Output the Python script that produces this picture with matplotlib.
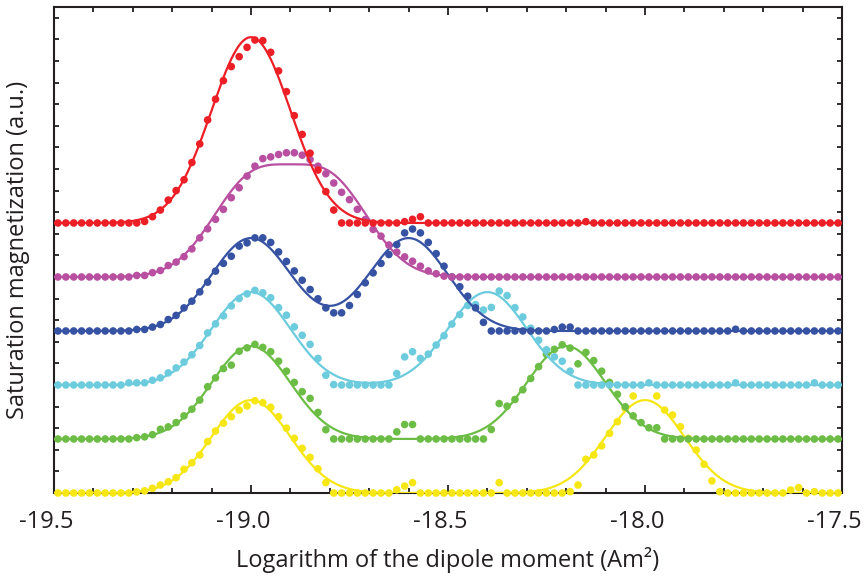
import numpy as np
import matplotlib
matplotlib.use("Agg")
import matplotlib.pyplot as plt
import matplotlib.transforms as mtransforms
from matplotlib.ticker import MultipleLocator, FormatStrFormatter

plt.rcParams["font.family"] = ["Open Sans", "DejaVu Sans"]
plt.rcParams["axes.unicode_minus"] = False

# Measurement grid: log10 of the dipole moment (A m^2)
x = np.round(-19.49 + 0.02 * np.arange(100), 2)

# Measured saturation magnetization (a.u.), one row of 10 points per line
red = [
    0, 0, 0, 0, 0, 0, 0, 0, 0, 0,
    0, 0.07, 0.29, 0.6, 1.06, 1.5, 2.0, 2.8, 3.66, 4.77,
    5.73, 6.59, 7.24, 7.7, 8.13, 8.47, 8.44, 7.9, 7.04, 6.08,
    4.97, 4.1, 3.23, 2.45, 1.45, 0.6, 0, 0, 0, 0,
    0, 0, 0, 0, 0.06, 0.17, 0.29, 0, 0, 0,
    0, 0, 0, 0, 0, 0, 0, 0, 0, 0,
    0, 0, 0, 0, 0, 0, 0, 0.06, 0, 0,
    0, 0, 0, 0, 0, 0, 0, 0, 0, 0,
    0, 0, 0, 0, 0, 0, 0, 0, 0, 0,
    0, 0, 0, 0, 0, 0, 0, 0, 0, 0,
]
magenta = [
    0, 0, 0, 0, 0, 0, 0, 0, 0, 0,
    0.07, 0.07, 0.2, 0.3, 0.53, 0.69, 0.94, 1.3, 1.81, 2.23,
    2.67, 3.13, 3.67, 4.13, 4.67, 5.13, 5.48, 5.56, 5.67, 5.75,
    5.75, 5.64, 5.44, 5.13, 4.78, 4.35, 3.92, 3.58, 3.13, 2.66,
    2.2, 1.89, 1.48, 1.15, 0.93, 0.73, 0.5, 0.28, 0.15, 0.04,
    0, 0, 0, 0, 0, 0, 0, 0, 0, 0,
    0, 0, 0, 0, 0, 0, 0, 0, 0, 0,
    0, 0, 0, 0, 0, 0, 0, 0, 0, 0,
    0, 0, 0, 0, 0, 0, 0, 0, 0, 0,
    0, 0, 0, 0, 0, 0, 0, 0, 0, 0,
]
blue = [
    0, 0, 0, 0, 0, 0, 0, 0, 0, 0,
    0.07, 0.07, 0.18, 0.3, 0.53, 0.72, 1.07, 1.38, 1.81, 2.26,
    2.77, 3.13, 3.46, 3.93, 4.08, 4.31, 4.31, 4.1, 3.66, 3.22,
    2.78, 2.35, 1.92, 1.49, 1.07, 0.84, 0.84, 1.18, 1.69, 2.23,
    2.69, 3.13, 3.54, 4.0, 4.54, 4.72, 4.54, 4.1, 3.58, 3.0,
    2.5, 2.05, 1.61, 1.07, 0.4, 0, 0, 0, 0, 0,
    0, 0, 0, 0.07, 0.18, 0.18, 0, 0, 0, 0,
    0, 0, 0, 0, 0, 0, 0, 0, 0, 0,
    0, 0, 0, 0, 0, 0, 0.08, 0, 0, 0,
    0, 0, 0, 0, 0, 0, 0, 0, 0, 0,
]
cyan = [
    0, 0, 0, 0, 0, 0, 0, 0, 0, 0.1,
    0.1, 0.1, 0.22, 0.33, 0.56, 0.79, 1.06, 1.4, 1.83, 2.41,
    2.83, 3.2, 3.66, 4.0, 4.22, 4.38, 4.27, 4.04, 3.58, 3.23,
    2.69, 2.3, 1.88, 1.23, 0.45, 0.02, 0, 0, 0, 0,
    0, 0, 0, 0.53, 1.3, 1.54, 1.23, 1.43, 1.85, 2.28,
    2.82, 3.26, 3.68, 3.72, 3.47, 3.59, 4.35, 4.14, 3.58, 3.15,
    2.63, 2.07, 1.63, 1.3, 1.1, 0.64, 0, 0, 0, 0,
    0, 0, 0, 0, 0, 0.1, 0, 0, 0, 0,
    0, 0, 0, 0, 0, 0, 0.1, 0, 0, 0,
    0, 0, 0, 0, 0, 0, 0.1, 0, 0, 0,
]
green = [
    0, 0, 0, 0, 0, 0, 0, 0, 0, 0,
    0.06, 0.1, 0.2, 0.45, 0.56, 0.76, 1.07, 1.38, 1.8, 2.42,
    2.83, 3.26, 3.42, 4.06, 4.22, 4.38, 4.24, 4.04, 3.6, 3.14,
    2.62, 2.19, 1.88, 1.23, 0.43, 0, 0, 0, 0, 0,
    0, 0, 0, 0.33, 0.67, 0.67, 0, 0, 0, 0,
    0, 0, 0, 0, 0, 0.44, 1.64, 1.52, 1.83, 2.28,
    2.8, 3.35, 3.92, 4.15, 4.36, 4.21, 3.48, 4.01, 3.63, 3.14,
    2.62, 2.07, 1.49, 1.07, 0.76, 0.52, 0.52, 0, 0, 0,
    0, 0, 0, 0, 0, 0, 0, 0, 0, 0,
    0, 0, 0, 0, 0, 0, 0, 0, 0, 0,
]
yellow = [
    0, 0, 0, 0, 0, 0, 0, 0, 0, 0,
    0.05, 0.1, 0.22, 0.37, 0.52, 0.71, 1.1, 1.4, 1.76, 2.38,
    2.87, 3.23, 3.53, 3.84, 4.03, 4.27, 4.18, 3.97, 3.53, 3.0,
    2.53, 2.07, 1.65, 1.12, 0.48, 0, 0, 0, 0, 0,
    0, 0, 0, 0.15, 0.32, 0.48, 0, 0, 0, 0,
    0, 0, 0, 0, 0, 0, 0.48, 0, 0, 0,
    0, 0, 0, 0, 0, 0.06, 0.37, 1.56, 1.76, 2.18,
    2.76, 3.3, 3.92, 4.49, np.nan, np.nan, 4.49, 3.84, 3.61, 3.07,
    2.53, 1.99, 1.33, 0.56, 0.06, 0, 0, 0, 0, 0,
    0, 0, 0, 0.14, 0.25, 0, 0.06, 0, 0, 0,
]

series = [yellow, green, cyan, blue, magenta, red]
colors = ["#f5e614", "#6cbd45", "#6ccbdd", "#3652a3", "#b94fa0", "#ed1f26"]
offsets = [0.0, 2.5, 5.0, 7.5, 10.0, 12.5]

# Two-population log-normal fit: fixed first population plus a shifted second one
first_center = -19.0
second_centers = [-18.0, -18.2, -18.4, -18.6, -18.8, -19.0]
peak_height = 4.3
peak_width = 0.1

fig = plt.figure(figsize=(8.64, 5.8), dpi=100)
ax = fig.add_axes([0.0625, 0.15, 0.912, 0.838])

xf = np.linspace(-19.5, -17.5, 1001)
for i, (ys, col, off, c2) in enumerate(zip(series, colors, offsets, second_centers)):
    fit = (peak_height * np.exp(-(xf - first_center) ** 2 / (2 * peak_width ** 2))
           + peak_height * np.exp(-(xf - c2) ** 2 / (2 * peak_width ** 2)))
    ax.plot(xf, fit + off, color=col, lw=1.6, zorder=3 + 2 * i)
    ax.scatter(x, np.asarray(ys, dtype=float) + off, s=30, color=col,
               edgecolors="none", zorder=4 + 2 * i, clip_on=False)

ax.set_xlim(-19.5, -17.5)
ax.set_ylim(0, 22.5)
ax.xaxis.set_major_locator(MultipleLocator(0.5))
ax.xaxis.set_minor_locator(MultipleLocator(0.1))
ax.xaxis.set_major_formatter(FormatStrFormatter("%.1f"))
ax.yaxis.set_major_locator(MultipleLocator(1))
ax.yaxis.set_ticklabels([])
ax.tick_params(which="both", direction="in", top=True, right=True, width=1.3,
               color="#231f20")
ax.tick_params(axis="x", which="major", length=6, labelsize=17, pad=12,
               labelcolor="#231f20")
ax.tick_params(axis="x", which="minor", length=3.5)
ax.tick_params(axis="y", which="major", length=3.5)
for s in ax.spines.values():
    s.set_linewidth(1.5)
    s.set_color("#231f20")

# numbers are centred on their digits, so the minus sign hangs to the left
shift = mtransforms.ScaledTranslation(-8 / 100, 0, fig.dpi_scale_trans)
for lbl in ax.get_xticklabels():
    lbl.set_transform(lbl.get_transform() + shift)

ax.set_xlabel("Logarithm of the dipole moment (Am\u00b2)", fontsize=17,
              color="#231f20")
ax.xaxis.set_label_coords(0.5, -0.112)
ax.set_ylabel("Saturation magnetization (a.u.)", fontsize=17, color="#231f20")
ax.yaxis.set_label_coords(-0.03, 0.5)

fig.savefig("out.png", dpi=100)
